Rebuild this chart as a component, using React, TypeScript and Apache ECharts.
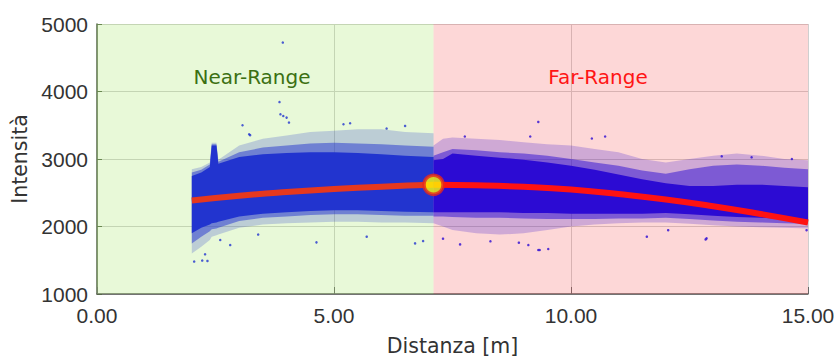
import React, { useEffect, useRef } from "react";
import * as echarts from "echarts";

// ---- Data ----
const X_MIN = 0;
const X_MAX = 15;
const Y_MIN = 1000;
const Y_MAX = 5000;
const SPLIT_X = 7.1;

// Near-range point cloud envelopes
const nearX = [2.0, 2.2, 2.38, 2.42, 2.52, 2.56, 3.0, 3.5, 4.0, 4.5, 5.0, 5.5, 6.0, 6.5, 7.1];
const nearOuterHi = [2850, 2880, 2950, 3240, 3240, 2990, 3200, 3300, 3350, 3400, 3420, 3440, 3440, 3400, 3380];
const nearMidHi = [2800, 2840, 2920, 3220, 3220, 2960, 3100, 3170, 3200, 3230, 3240, 3230, 3220, 3200, 3180];
const nearCoreHi = [2750, 2800, 2880, 3200, 3200, 2930, 3030, 3070, 3090, 3100, 3100, 3090, 3070, 3050, 3030];
const nearCoreLo = [1900, 1980, 2030, 2050, 2060, 2070, 2150, 2190, 2210, 2230, 2240, 2240, 2230, 2220, 2210];
const nearMidLo = [1750, 1850, 1930, 1960, 1970, 1980, 2080, 2130, 2150, 2170, 2180, 2180, 2170, 2160, 2160];
const nearOuterLo = [1600, 1700, 1800, 1850, 1870, 1880, 1980, 2030, 2050, 2060, 2070, 2070, 2060, 2060, 2050];

// Far-range point cloud envelopes
const farX = [7.1, 7.3, 7.5, 8.0, 8.5, 9.0, 9.5, 10.0, 10.5, 11.0, 11.5, 12.0, 12.5, 13.0, 13.5, 14.0, 14.5, 15.0];
const farOuterHi = [3200, 3300, 3320, 3300, 3280, 3250, 3220, 3200, 3150, 3100, 3000, 2950, 3000, 3050, 3080, 3050, 3000, 2980];
const farMidHi = [3050, 3100, 3150, 3130, 3100, 3080, 3050, 3000, 2950, 2900, 2830, 2780, 2850, 2900, 2920, 2900, 2870, 2850];
const farCoreHi = [2980, 3000, 3080, 3050, 3020, 2990, 2950, 2900, 2840, 2770, 2700, 2640, 2600, 2600, 2620, 2620, 2600, 2580];
const farCoreLo = [2210, 2210, 2210, 2210, 2210, 2200, 2200, 2190, 2190, 2190, 2190, 2200, 2180, 2160, 2140, 2130, 2110, 2090];
const farMidLo = [2150, 2150, 2140, 2130, 2130, 2120, 2110, 2110, 2110, 2120, 2120, 2130, 2110, 2090, 2070, 2060, 2050, 2040];
const farOuterLo = [2050, 2000, 1950, 1900, 1880, 1900, 1950, 2000, 2030, 2050, 2060, 2060, 2040, 2020, 2000, 1990, 1980, 1970];

// Isolated outlier points
const nearOutliers: number[][] = [
  [3.92, 4725], [3.85, 3843], [3.87, 3662], [3.93, 3637], [4.0, 3613], [4.05, 3540],
  [3.07, 3500], [3.23, 3353], [3.21, 3367], [5.2, 3515], [5.34, 3529], [6.11, 3451],
  [6.5, 3490], [2.05, 1480], [2.22, 1495], [2.33, 1490], [2.28, 1588], [2.81, 1725],
  [4.63, 1765], [5.69, 1849], [6.71, 1750], [6.88, 1784], [2.6, 1800], [3.4, 1880],
];
const farOutliers: number[][] = [
  [9.31, 3549], [7.76, 3333], [9.14, 3333], [10.44, 3304], [10.72, 3333], [9.31, 1652],
  [9.52, 1667], [9.1, 1725], [7.66, 1735], [12.86, 1824], [11.6, 1849], [12.05, 1946],
  [13.18, 3040], [14.66, 3000], [13.81, 3025], [14.97, 1946], [12.84, 1809], [9.34, 1652],
  [8.3, 1780], [8.9, 1760], [7.3, 1820],
];

// Fitted curve
const curveNearX = [2.0, 3.0, 4.0, 5.0, 6.0, 7.1];
const curveNearY = [2385, 2455, 2510, 2555, 2590, 2618];
const curveFarX = [7.1, 8.0, 9.0, 10.0, 11.0, 12.0, 13.0, 14.0, 15.0];
const curveFarY = [2618, 2610, 2588, 2548, 2480, 2400, 2300, 2185, 2060];

const peakPoint = [7.1, 2618];

const xTicks = [0, 5, 10, 15];
const yTicks = [1000, 2000, 3000, 4000, 5000];

const NEAR_BLUE = "#2234cf";
const FAR_BLUE = "#2c0bd3";

function bandSeries(xs: number[], lo: number[], hi: number[], fill: string, z: number) {
  return {
    type: "custom",
    coordinateSystem: "cartesian2d",
    silent: true,
    z,
    clip: true,
    data: xs.map((x, i) => [x, lo[i], hi[i]]),
    encode: { x: 0, y: [1, 2] },
    renderItem: (params: any, api: any) => {
      if (params.dataIndex !== 0) return null;
      const upper = xs.map((x, i) => api.coord([x, hi[i]]));
      const lower = xs.map((x, i) => api.coord([x, lo[i]])).reverse();
      return {
        type: "polygon",
        shape: { points: upper.concat(lower) },
        style: { fill, stroke: null },
      };
    },
  };
}

function regionSeries(x0: number, x1: number, fill: string) {
  return {
    type: "custom",
    coordinateSystem: "cartesian2d",
    silent: true,
    z: 1,
    data: [[x0, Y_MIN], [x1, Y_MAX]],
    renderItem: (params: any, api: any) => {
      if (params.dataIndex !== 0) return null;
      const p0 = api.coord([x0, Y_MAX]);
      const p1 = api.coord([x1, Y_MIN]);
      return {
        type: "rect",
        shape: { x: p0[0], y: p0[1], width: p1[0] - p0[0], height: p1[1] - p0[1] },
        style: { fill },
      };
    },
  };
}

export default function App() {
  const ref = useRef<HTMLDivElement>(null);

  useEffect(() => {
    if (!ref.current) return;
    const chart = echarts.init(ref.current, undefined, { renderer: "svg" });
    const labelFont = { color: "#333", fontSize: 21, fontFamily: "Liberation Sans" };
    const titleFont = { color: "#333", fontSize: 20.5, fontFamily: "DejaVu Sans" };
    chart.setOption({
      animation: false,
      backgroundColor: "#ffffff",
      grid: { left: 97, right: 30, top: 24, bottom: 65, containLabel: false },
      xAxis: {
        type: "value",
        min: X_MIN,
        max: X_MAX,
        interval: 5,
        name: "Distanza [m]",
        nameLocation: "middle",
        nameGap: 41,
        nameTextStyle: titleFont,
        axisLine: { show: true, lineStyle: { color: "#555", width: 1.5 } },
        axisTick: { show: true, inside: true, length: 7, lineStyle: { color: "#666" } },
        axisLabel: {
          ...labelFont,
          margin: 11,
          formatter: (v: number) => (xTicks.includes(v) ? v.toFixed(2) : ""),
        },
        splitLine: { show: true, lineStyle: { color: "#cfcfcf", width: 1 } },
      },
      yAxis: {
        type: "value",
        min: Y_MIN,
        max: Y_MAX,
        interval: 1000,
        name: "Intensità",
        nameLocation: "middle",
        nameRotate: 90,
        nameGap: 62,
        nameTextStyle: titleFont,
        axisLine: { show: true, lineStyle: { color: "#56684a", width: 1.5 } },
        axisTick: { show: true, inside: true, length: 5, lineStyle: { color: "#56684a" } },
        axisLabel: {
          ...labelFont,
          margin: 9,
          formatter: (v: number) => (yTicks.includes(v) ? String(v) : ""),
        },
        splitLine: { show: true, lineStyle: { color: "#cfcfcf", width: 1 } },
      },
      graphic: [
        {
          type: "text",
          x: 252,
          y: 77,
          z: 100,
          style: {
            text: "Near-Range",
            font: '20px "DejaVu Sans"',
            fill: "#3b7012",
            textAlign: "center",
            textVerticalAlign: "middle",
            align: "center",
            verticalAlign: "middle",
          },
        },
        {
          type: "text",
          x: 598,
          y: 77,
          z: 100,
          style: {
            text: "Far-Range",
            font: '20px "DejaVu Sans"',
            fill: "#ff1414",
            textAlign: "center",
            textVerticalAlign: "middle",
            align: "center",
            verticalAlign: "middle",
          },
        },
      ],
      series: [
        regionSeries(X_MIN, SPLIT_X, "rgba(163,230,99,0.25)"),
        regionSeries(SPLIT_X, X_MAX, "rgba(245,80,80,0.23)"),
        bandSeries(nearX, nearOuterLo, nearOuterHi, "rgba(34,52,207,0.22)", 2),
        bandSeries(nearX, nearMidLo, nearMidHi, "rgba(34,52,207,0.5)", 2),
        bandSeries(nearX, nearCoreLo, nearCoreHi, NEAR_BLUE, 2),
        bandSeries(farX, farOuterLo, farOuterHi, "rgba(44,11,211,0.22)", 2),
        bandSeries(farX, farMidLo, farMidHi, "rgba(44,11,211,0.5)", 2),
        bandSeries(farX, farCoreLo, farCoreHi, FAR_BLUE, 2),
        {
          type: "scatter",
          silent: true,
          z: 3,
          symbolSize: 2.5,
          itemStyle: { color: NEAR_BLUE, opacity: 0.8 },
          data: nearOutliers,
        },
        {
          type: "scatter",
          silent: true,
          z: 3,
          symbolSize: 2.5,
          itemStyle: { color: FAR_BLUE, opacity: 0.8 },
          data: farOutliers,
        },
        {
          type: "line",
          silent: true,
          z: 4,
          smooth: true,
          showSymbol: false,
          lineStyle: { color: "#e6381e", width: 6 },
          data: curveNearX.map((x, i) => [x, curveNearY[i]]),
        },
        {
          type: "line",
          silent: true,
          z: 4,
          smooth: true,
          showSymbol: false,
          lineStyle: { color: "#ff1212", width: 6 },
          data: curveFarX.map((x, i) => [x, curveFarY[i]]),
        },
        {
          type: "scatter",
          silent: true,
          z: 5,
          symbolSize: 19,
          itemStyle: { color: "#ffff00", borderColor: "#e8281a", borderWidth: 3.5 },
          data: [peakPoint],
        },
      ],
    });
    return () => chart.dispose();
  }, []);

  return (
    <div
      ref={ref}
      style={{ position: "fixed", left: 0, top: 0, width: 838, height: 361 }}
    />
  );
}
